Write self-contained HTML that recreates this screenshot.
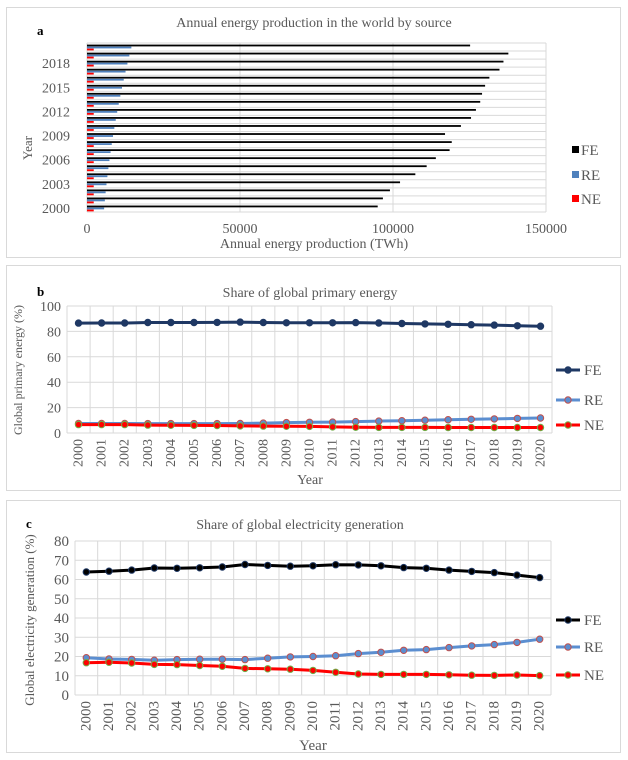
<!DOCTYPE html>
<html><head><meta charset="utf-8"><style>
html,body{margin:0;padding:0;background:#fff}
svg{display:block}
text{font-family:"Liberation Serif",serif}
</style></head><body>
<svg id="s" width="628" height="760" xmlns="http://www.w3.org/2000/svg"></svg>
<script>
var s=document.getElementById('s'),h='';
function t(x,y,str,o){o=o||{};h+='<text font-family="Liberation Serif, serif" x="'+x+'" y="'+y+'" font-size="'+(o.fs||13)+'" fill="'+(o.c||'#595959')+'" text-anchor="'+(o.a||'middle')+'"'+(o.tr?' transform="'+o.tr+'"':'')+(o.w?' font-weight="bold"':'')+'>'+str+'</text>';}
function r(x,y,w,hh,f){h+='<rect x="'+x+'" y="'+y+'" width="'+w+'" height="'+hh+'" fill="'+f+'"/>';}
function l(x1,y1,x2,y2,c,w){h+='<line x1="'+x1+'" y1="'+y1+'" x2="'+x2+'" y2="'+y2+'" stroke="'+c+'" stroke-width="'+(w||1)+'"/>';}
h+='<rect x="6.5" y="7.5" width="614" height="250" fill="none" stroke="#d9d9d9"/>';
h+='<rect x="6.5" y="265.5" width="614" height="225" fill="none" stroke="#d9d9d9"/>';
h+='<rect x="6.5" y="500.5" width="614" height="252" fill="none" stroke="#d9d9d9"/>';
// Panel a
var x0=87,sc=459/150000,pTop=43,pBot=212,cat=(pBot-pTop)/21;
for(var v=0;v<=150000;v+=50000){l(x0+v*sc,pTop,x0+v*sc,pBot,'#d9d9d9');t(x0+v*sc,233,v,{fs:14});}
for(var i=0;i<=21;i++)l(x0,pTop+i*cat,x0+459,pTop+i*cat,'#d9d9d9');
var FE=[95000,96700,99000,102300,107300,111000,114000,118500,119200,117000,122200,125500,127100,128500,129100,130100,131500,134800,136100,137700,125200];
for(i=0;i<21;i++){var yb=pBot-(i+1)*cat;
 var re=5600+(14500-5600)*(i/20)*(0.5+0.5*i/20);
 r(x0,yb+1.6,FE[i]*sc,1.8,'#000');r(x0,yb+3.6,re*sc,1.8,'#4f81bd');r(x0,yb+5.6,2200*sc,1.8,'#ff0000');}
[[2000,0],[2003,3],[2006,6],[2009,9],[2012,12],[2015,15],[2018,18]].forEach(function(p){t(70,pBot-(p[1]+0.5)*cat+5,p[0],{fs:14,a:'end'});});
t(314,27,'Annual energy production in the world by source',{fs:14});
t(37,35,'a',{fs:13,c:'#000',w:1,a:'start'});
t(32,148,'Year',{fs:13,tr:'rotate(-90 32 148)'});
t(314,248,'Annual energy production (TWh)',{fs:14});
[['FE','#000',155],['RE','#4f81bd',180],['NE','#ff0000',204]].forEach(function(p){r(572,p[2]-9,7,7,p[1]);t(581,p[2],p[0],{fs:15,a:'start'});});
function line(cfg){
 var L=cfg.L,R=cfg.R,y0=cfg.y0,yT=cfg.yT,max=cfg.max,step=cfg.step,cw=(R-L)/21;
 for(var v=0;v<=max;v+=step){var y=y0-(y0-yT)*v/max;l(L,y,R,y,'#d9d9d9');t(L-6,y+5,v,{fs:cfg.tfs,a:'end'});}
 for(var i=0;i<=21;i++)l(L+i*cw,yT,L+i*cw,y0,'#d9d9d9');
 for(i=0;i<21;i++){var cx=L+(i+0.5)*cw,yy=y0+6;t(cx+4,yy,2000+i,{fs:cfg.tfs,a:'end',tr:'rotate(-90 '+(cx+4)+' '+yy+')'});}
 cfg.series.forEach(function(se){var pts=se.d.map(function(v,i){return (L+(i+0.5)*cw).toFixed(1)+','+(y0-(y0-yT)*v/max).toFixed(1);});
  h+='<polyline points="'+pts.join(' ')+'" fill="none" stroke="'+se.c+'" stroke-width="3"/>';
  pts.forEach(function(p){var q=p.split(',');h+='<circle cx="'+q[0]+'" cy="'+q[1]+'" r="3.2" fill="'+se.c+'" stroke="'+se.m+'" stroke-width="1"/>';});
 });
 cfg.series.forEach(function(se,k){var ly=cfg.ly[k];l(556,ly,580,ly,se.c,3);h+='<circle cx="568" cy="'+ly+'" r="3.2" fill="'+se.c+'" stroke="'+se.m+'"/>';t(584,ly+5,se.n,{fs:15,a:'start'});});
}
line({L:67,R:552,y0:433,yT:306,max:100,step:20,tfs:14,ly:[370,400,425],series:[
 {n:'FE',c:'#1f3864',m:'#1f3864',d:[86.5,86.6,86.6,87,87,87,87.1,87.3,87,86.8,86.8,86.8,86.9,86.6,86.2,85.9,85.6,85.3,85,84.4,84.1]},
 {n:'RE',c:'#5b8ed0',m:'#c0504d',d:[7.5,7.5,7.5,7.4,7.4,7.4,7.4,7.5,7.8,8.2,8.4,8.6,9,9.4,9.7,10.1,10.5,10.8,11.1,11.5,11.8]},
 {n:'NE',c:'#ff0000',m:'#70ad47',d:[6.6,6.6,6.6,6.2,6.1,6,5.9,5.6,5.4,5.3,5.2,4.8,4.5,4.4,4.4,4.4,4.3,4.3,4.3,4.3,4.3]}]});
t(310,297,'Share of global primary energy',{fs:14});
t(37,296,'b',{fs:13,c:'#000',w:1,a:'start'});
t(22,370,'Global primary energy (%)',{fs:12,tr:'rotate(-90 22 370)'});
t(310,484,'Year',{fs:14});
line({L:75,R:551,y0:695,yT:541,max:80,step:10,tfs:15,ly:[620,647,675],series:[
 {n:'FE',c:'#000',m:'#1f3864',d:[63.9,64.3,64.9,66,65.8,66.1,66.5,67.8,67.3,66.9,67.1,67.7,67.6,67.1,66.2,65.8,64.9,64.2,63.6,62.3,61]},
 {n:'RE',c:'#5b8ed0',m:'#c0504d',d:[19.4,18.7,18.5,18.1,18.4,18.6,18.6,18.4,19.1,19.8,20,20.4,21.5,22.2,23.2,23.6,24.6,25.5,26.2,27.3,29]},
 {n:'NE',c:'#ff0000',m:'#70ad47',d:[16.8,17,16.6,15.9,15.8,15.3,14.9,13.8,13.6,13.4,12.8,11.8,10.9,10.7,10.7,10.7,10.5,10.3,10.2,10.4,10.1]}]});
t(300,529,'Share of global electricity generation',{fs:14});
t(26,528,'c',{fs:13,c:'#000',w:1,a:'start'});
t(34,620,'Global electricity generation (%)',{fs:13,tr:'rotate(-90 34 620)'});
t(313,750,'Year',{fs:15});
s.innerHTML=h;
</script>
</body></html>
